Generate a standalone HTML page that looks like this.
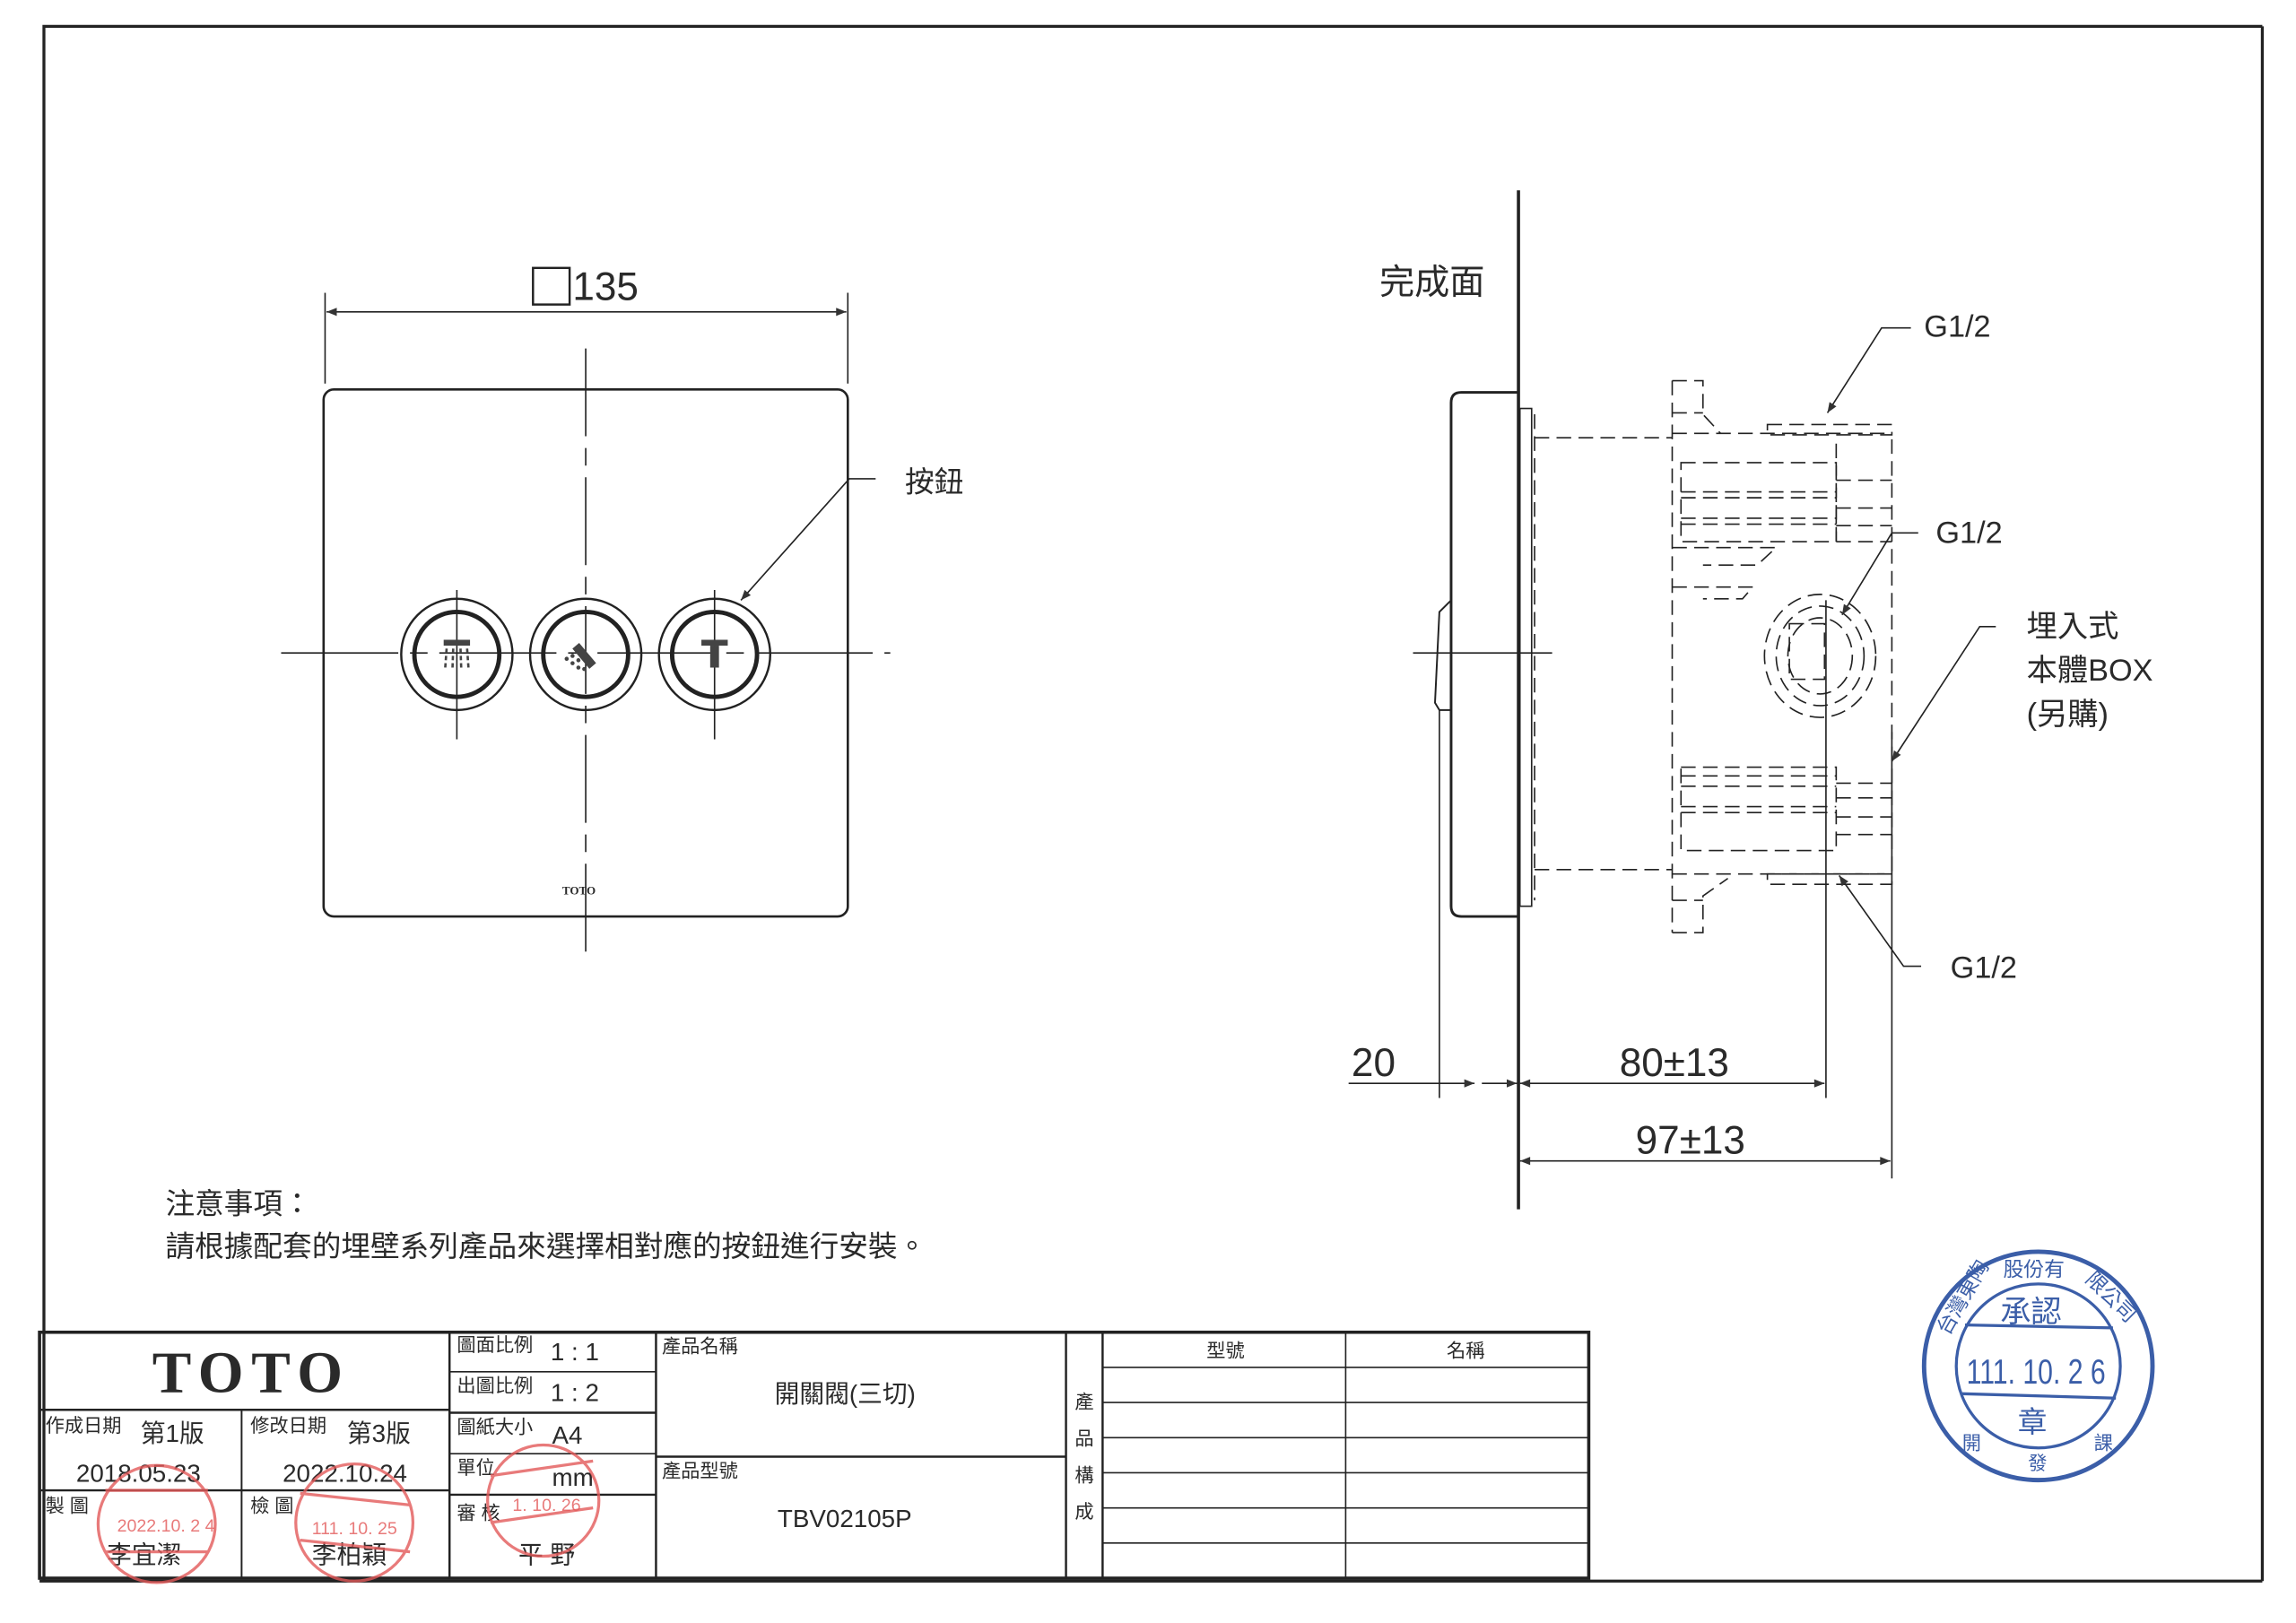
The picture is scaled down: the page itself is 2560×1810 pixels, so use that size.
<!DOCTYPE html>
<html><head><meta charset="utf-8"><style>
html,body{margin:0;padding:0;background:#fff}
svg{display:block}
text{font-family:"Liberation Sans","Noto Sans CJK TC",sans-serif;fill:#2a2a2a}
</style></head><body>
<svg width="2560" height="1810" viewBox="0 0 1568 1108.6" xmlns="http://www.w3.org/2000/svg">
<defs>
<marker id="a" viewBox="0 0 10 10" refX="10" refY="5" markerWidth="16" markerHeight="7" orient="auto-start-reverse" markerUnits="userSpaceOnUse"><path d="M0,1 L10,5 L0,9 z" fill="#333"/></marker>
</defs>
<g stroke="#222" fill="none">
<polyline points="30,1080 30,18 1545,18" stroke-width="2"/>
<line x1="1545" y1="18" x2="1545" y2="1080" stroke-width="2"/>
<line x1="27" y1="1080" x2="1545" y2="1080" stroke-width="2"/>

<rect x="221" y="266" width="358" height="360" rx="7" stroke-width="1.6"/>
<line x1="400" y1="238" x2="400" y2="652" stroke-width="1" stroke-dasharray="60,8,12,8"/>
<line x1="192" y1="446" x2="608" y2="446" stroke-width="1" stroke-dasharray="80,8,12,8"/>
<line x1="222" y1="200" x2="222" y2="262" stroke-width="1"/>
<line x1="579" y1="200" x2="579" y2="262" stroke-width="1"/>
<line x1="223" y1="213" x2="578" y2="213" stroke-width="1" marker-start="url(#a)" marker-end="url(#a)"/>
<rect x="364" y="183" width="25" height="25" stroke-width="1.5"/>
<circle cx="312" cy="447" r="38" stroke-width="1.5"/><circle cx="312" cy="447" r="29" stroke-width="3"/>
<circle cx="400" cy="447" r="38" stroke-width="1.5"/><circle cx="400" cy="447" r="29" stroke-width="3"/>
<circle cx="488" cy="447" r="38" stroke-width="1.5"/><circle cx="488" cy="447" r="29" stroke-width="3"/>
<line x1="312" y1="403" x2="312" y2="505" stroke-width="1"/>
<line x1="488" y1="403" x2="488" y2="505" stroke-width="1"/>
<polyline points="598,327 580,327 506,410" stroke-width="1" marker-end="url(#a)"/>
</g>
<g fill="#444">
<rect x="303" y="437" width="18" height="4"/>
<g stroke="#444" stroke-width="1.6" stroke-dasharray="3,2"><line x1="305" y1="443" x2="304" y2="457"/><line x1="309.5" y1="443" x2="309" y2="457"/><line x1="314.5" y1="443" x2="315" y2="457"/><line x1="319" y1="443" x2="320" y2="457"/></g>
<rect x="396" y="439" width="6" height="18" transform="rotate(-40 399 448)"/>
<circle cx="391" cy="448" r="1.4"/><circle cx="395" cy="451" r="1.4"/><circle cx="391" cy="453" r="1.4"/><circle cx="387" cy="450" r="1.4"/><circle cx="395" cy="456" r="1.4"/><circle cx="399" cy="457" r="1.4"/>
<rect x="479" y="437" width="18" height="4"/><rect x="485" y="441" width="6" height="15"/>
</g>
<text x="384" y="611" font-size="8" style="font-family:'Liberation Serif',serif;font-weight:bold">TOTO</text>
<text x="391" y="205" font-size="27">135</text>
<text x="618" y="336" font-size="20">按鈕</text>

<g stroke="#222" fill="none">
<line x1="1037" y1="130" x2="1037" y2="826" stroke-width="2.2"/>
<path d="M1037,268 L998,268 Q991,268 991,275 L991,619 Q991,626 998,626 L1037,626" stroke-width="1.8"/>
<path d="M991,410 L983,418 L980,480 L983,485 L991,485" stroke-width="1.2"/>
<line x1="965" y1="446" x2="1060" y2="446" stroke-width="1"/>
<line x1="983" y1="485" x2="983" y2="750" stroke-width="1"/>
<rect x="1038" y="279" width="8" height="340" stroke-width="1"/>
<g stroke-dasharray="10,5" stroke-width="1">
<line x1="1048" y1="283" x2="1048" y2="615"/>
<line x1="1048" y1="299" x2="1142" y2="299"/>
<line x1="1048" y1="594" x2="1142" y2="594"/>
<line x1="1142" y1="260" x2="1142" y2="637"/>
<polyline points="1142,260 1163,260 1163,283 1175,296"/>
<polyline points="1142,637 1163,637 1163,612 1180,600"/>
<line x1="1142" y1="282" x2="1163" y2="282"/>
<line x1="1142" y1="615" x2="1163" y2="615"/>
<line x1="1142" y1="296" x2="1292" y2="296"/>
<line x1="1142" y1="597" x2="1292" y2="597"/>
<rect x="1207" y="290" width="85" height="7"/>
<rect x="1207" y="597" width="85" height="7"/>
<line x1="1292" y1="300" x2="1292" y2="597"/>
<line x1="1254" y1="303" x2="1254" y2="370"/>
<rect x="1148" y="316" width="106" height="54"/>
<line x1="1148" y1="336" x2="1254" y2="336"/><line x1="1148" y1="340" x2="1254" y2="340"/>
<line x1="1148" y1="354" x2="1254" y2="354"/><line x1="1148" y1="358" x2="1254" y2="358"/>
<line x1="1254" y1="328" x2="1292" y2="328"/><line x1="1254" y1="347" x2="1292" y2="347"/>
<line x1="1254" y1="359" x2="1292" y2="359"/><line x1="1254" y1="370" x2="1292" y2="370"/>
<rect x="1148" y="524" width="106" height="57"/>
<line x1="1148" y1="530" x2="1254" y2="530"/><line x1="1148" y1="537" x2="1254" y2="537"/>
<line x1="1148" y1="551" x2="1254" y2="551"/><line x1="1148" y1="555" x2="1254" y2="555"/>
<line x1="1254" y1="535" x2="1292" y2="535"/><line x1="1254" y1="545" x2="1292" y2="545"/>
<line x1="1254" y1="558" x2="1292" y2="558"/><line x1="1254" y1="570" x2="1292" y2="570"/>
<polyline points="1142,374 1213,374 1200,386 1163,386"/>
<polyline points="1142,401 1197,401 1190,409 1163,409"/>
<ellipse cx="1243" cy="448" rx="38" ry="42"/>
<ellipse cx="1243" cy="448" rx="30" ry="34"/>
<ellipse cx="1243" cy="448" rx="22" ry="26"/>
<rect x="1222" y="426" width="24" height="38"/>
</g>
<line x1="1247" y1="410" x2="1247" y2="750" stroke-width="1"/>
<line x1="1292" y1="500" x2="1292" y2="805" stroke-width="1"/>
<polyline points="1305,224 1285,224 1248,282" stroke-width="1" marker-end="url(#a)"/>
<polyline points="1310,364 1292,364 1258,420" stroke-width="1" marker-end="url(#a)"/>
<polyline points="1363,428 1352,428 1292,520" stroke-width="1" marker-end="url(#a)"/>
<polyline points="1312,660 1300,660 1256,598" stroke-width="1" marker-end="url(#a)"/>
<line x1="921" y1="740" x2="983" y2="740" stroke-width="1"/>
<line x1="983" y1="740" x2="1007" y2="740" stroke-width="1" marker-end="url(#a)"/>
<line x1="1012" y1="740" x2="1036" y2="740" stroke-width="1" marker-end="url(#a)"/>
<line x1="1038" y1="740" x2="1246" y2="740" stroke-width="1" marker-start="url(#a)" marker-end="url(#a)"/>
<line x1="1038" y1="793" x2="1291" y2="793" stroke-width="1" marker-start="url(#a)" marker-end="url(#a)"/>
</g>
<text x="942" y="201" font-size="24">完成面</text>
<text x="1314" y="230" font-size="21">G1/2</text>
<text x="1322" y="371" font-size="21">G1/2</text>
<text x="1332" y="668" font-size="21">G1/2</text>
<text x="1384" y="435" font-size="21">埋入式</text>
<text x="1384" y="465" font-size="21">本體BOX</text>
<text x="1384" y="495" font-size="21">(另購)</text>
<text x="923" y="735" font-size="27">20</text>
<text x="1106" y="735" font-size="27">80±13</text>
<text x="1117" y="788" font-size="27">97±13</text>
<text x="113" y="829" font-size="20">注意事項：</text>
<text x="113" y="858" font-size="20">請根據配套的埋壁系列產品來選擇相對應的按鈕進行安裝。</text>

<g stroke="#222" fill="none">
<rect x="27" y="910" width="1058" height="168" stroke-width="2.2"/>
<line x1="27" y1="963" x2="307" y2="963" stroke-width="1.5"/>
<line x1="27" y1="1018" x2="307" y2="1018" stroke-width="1.5"/>
<line x1="165" y1="963" x2="165" y2="1078" stroke-width="1.2"/>
<line x1="307" y1="910" x2="307" y2="1078" stroke-width="1.5"/>
<line x1="448" y1="910" x2="448" y2="1078" stroke-width="1.5"/>
<line x1="307" y1="937" x2="448" y2="937" stroke-width="1"/>
<line x1="307" y1="965" x2="448" y2="965" stroke-width="1.5"/>
<line x1="307" y1="993" x2="448" y2="993" stroke-width="1"/>
<line x1="307" y1="1021" x2="448" y2="1021" stroke-width="1.5"/>
<line x1="448" y1="995" x2="728" y2="995" stroke-width="1.5"/>
<line x1="728" y1="910" x2="728" y2="1078" stroke-width="1.5"/>
<line x1="753" y1="910" x2="753" y2="1078" stroke-width="1.5"/>
<line x1="919" y1="910" x2="919" y2="1078" stroke-width="1"/>
<g stroke-width="1"><line x1="753" y1="934" x2="1085" y2="934"/><line x1="753" y1="958" x2="1085" y2="958"/><line x1="753" y1="982" x2="1085" y2="982"/><line x1="753" y1="1006" x2="1085" y2="1006"/><line x1="753" y1="1030" x2="1085" y2="1030"/><line x1="753" y1="1054" x2="1085" y2="1054"/></g>
</g>
<text x="104" y="951" font-size="40" textLength="130" style="font-family:'Liberation Serif',serif;font-weight:bold">TOTO</text>
<g font-size="13"><text x="312" y="923">圖面比例</text><text x="312" y="951">出圖比例</text><text x="312" y="979">圖紙大小</text><text x="312" y="1007">單位</text><text x="312" y="1038">審 核</text>
<text x="452" y="924">產品名稱</text><text x="452" y="1009">產品型號</text>
<text x="31" y="978">作成日期</text><text x="171" y="978">修改日期</text>
<text x="31" y="1033">製 圖</text><text x="171" y="1033">檢 圖</text>
<text x="824" y="927">型號</text><text x="988" y="927">名稱</text></g>
<g font-size="17"><text x="376" y="929">1 : 1</text><text x="376" y="957">1 : 2</text><text x="377" y="986">A4</text><text x="377" y="1015">mm</text>
<text x="96" y="985">第1版</text><text x="237" y="985">第3版</text>
<text x="52" y="1012">2018.05.23</text><text x="193" y="1012">2022.10.24</text>
<text x="73" y="1068">李宜潔</text><text x="213" y="1068">李柏穎</text><text x="354" y="1068">平  野</text>
<text x="529" y="958">開關閥(三切)</text><text x="531" y="1043">TBV02105P</text></g>
<g font-size="13"><text x="734" y="962">產</text><text x="734" y="987">品</text><text x="734" y="1012">構</text><text x="734" y="1037">成</text></g>

<g stroke="#e35a5a" fill="none" stroke-width="2" opacity="0.8">
<circle cx="107" cy="1041" r="40"/><line x1="72" y1="1018" x2="142" y2="1018"/><line x1="72" y1="1060" x2="142" y2="1060"/>
<circle cx="242" cy="1040" r="40"/><line x1="205" y1="1020" x2="280" y2="1028"/><line x1="205" y1="1052" x2="280" y2="1060"/>
<circle cx="371" cy="1025" r="38"/><line x1="335" y1="1008" x2="405" y2="998"/><line x1="335" y1="1040" x2="405" y2="1030"/>
</g>
<g opacity="0.8" font-size="12"><text x="80" y="1046" style="fill:#e35a5a">2022.10. 2 4</text><text x="213" y="1048" style="fill:#e35a5a">111. 10. 25</text><text x="350" y="1032" style="fill:#e35a5a">1. 10. 26</text></g>

<g stroke="#3b5ea8" fill="none">
<circle cx="1392" cy="933" r="78" stroke-width="3"/>
<circle cx="1392" cy="933" r="56" stroke-width="2"/>
<line x1="1342" y1="905" x2="1443" y2="907" stroke-width="2"/>
<line x1="1340" y1="952" x2="1445" y2="955" stroke-width="2"/>
</g>
<text x="1366" y="903" font-size="21" style="fill:#3b5ea8">承認</text>
<text x="1343" y="945" font-size="24" textLength="95" lengthAdjust="spacingAndGlyphs" style="fill:#3b5ea8">111. 10. 2 6</text>
<text x="1378" y="978" font-size="20" style="fill:#3b5ea8">章</text>
<text font-size="14" style="fill:#3b5ea8" x="1322" y="912" transform="rotate(-60 1327 905)">台灣東陶</text>
<text font-size="14" style="fill:#3b5ea8" x="1368" y="872">股份有</text>
<text font-size="14" style="fill:#3b5ea8" x="1422" y="878" transform="rotate(45 1427 878)">限公司</text>
<text font-size="13" style="fill:#3b5ea8" x="1340" y="990">開</text><text font-size="13" style="fill:#3b5ea8" x="1385" y="1004">發</text><text font-size="13" style="fill:#3b5ea8" x="1430" y="990">課</text>
</svg>
</body></html>
